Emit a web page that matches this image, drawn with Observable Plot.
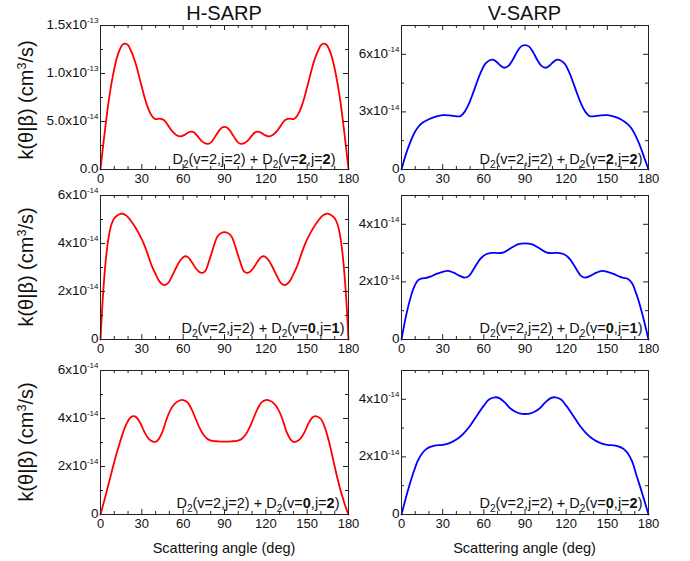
<!DOCTYPE html>
<html>
<head>
<meta charset="utf-8">
<script src="https://cdn.jsdelivr.net/npm/d3@7"></script>
<script src="https://cdn.jsdelivr.net/npm/@observablehq/plot@0.6"></script>
<style>
  body { margin: 0; background: #fff; font-family: "Liberation Sans", Arial, sans-serif; color: #111; }
  #fig { position: relative; width: 690px; height: 561px; overflow: hidden; }
  #fig svg { position: absolute; }
  .ttl { position: absolute; font-size: 20px; line-height: 20px; transform: translateX(-50%); white-space: nowrap; }
  .xt { position: absolute; font-size: 14.5px; line-height: 14px; transform: translateX(-50%); white-space: nowrap; }
  .yt { position: absolute; font-size: 20px; line-height: 20px; white-space: nowrap; transform: translate(-50%, -50%) rotate(-90deg); }
  .yt sup { font-size: 12.5px; vertical-align: 0; position: relative; top: -7.5px; }
</style>
</head>
<body>
<div id="fig"></div>
<script>
// ---- Data (k values in units of 1e-14 cm^3/s) ----
const columnTitles = ["H-SARP", "V-SARP"];
const xAxisTitle = "Scattering angle (deg)";
const xTicks = [0, 30, 60, 90, 120, 150, 180];
const xMinorTicks = [10, 20, 40, 50, 70, 80, 100, 110, 130, 140, 160, 170];

// H-SARP, D2(v=2,j=2)+D2(v=2,j=2)
const angH22 = [0,2,4,6,8,10,12,14,16,18,20,22,24,26,28,30,32,34,36,38,40,43,46,49,52,55,58,61,64,66,68,70,72,74,76,78,80,82,84,86,88,90,92,94,96,98,100,102,104,106,108,110,112,114,116,119,122,125,128,131,134,137,140,142,144,146,148,150,152,154,156,158,160,162,164,166,168,170,172,174,176,178,180];
const kH22 = [0,2.6,5.0,7.2,9.0,10.5,11.7,12.5,13.0,13.12,12.95,12.4,11.7,10.8,9.7,8.6,7.5,6.6,5.9,5.45,5.25,5.3,5.15,4.6,4.0,3.6,3.45,3.6,3.88,3.95,3.85,3.55,3.2,2.9,2.72,2.68,2.8,3.15,3.6,4.05,4.35,4.45,4.35,4.05,3.6,3.15,2.8,2.68,2.72,2.9,3.2,3.55,3.85,3.95,3.88,3.6,3.45,3.6,4.0,4.6,5.15,5.3,5.25,5.45,5.9,6.6,7.5,8.6,9.7,10.8,11.7,12.4,12.95,13.12,13.0,12.5,11.7,10.5,9.0,7.2,5.0,2.6,0];

// V-SARP, D2(v=2,j=2)+D2(v=2,j=2)
const angV22 = [0,3,6,9,12,15,20,25,30,35,40,43,46,49,52,55,58,61,64,66.5,69,72,75,78,81,84,87,90,93,96,99,102,105,108,111,113.5,116,119,122,125,128,131,134,137,140,145,150,155,160,165,168,171,174,177,180];
const kV22 = [0,0.75,1.35,1.85,2.2,2.42,2.62,2.75,2.83,2.82,2.77,2.78,3.0,3.4,3.95,4.55,5.1,5.5,5.68,5.72,5.62,5.42,5.3,5.4,5.7,6.1,6.4,6.48,6.4,6.1,5.7,5.4,5.3,5.42,5.62,5.72,5.68,5.5,5.1,4.55,3.95,3.4,3.0,2.78,2.77,2.82,2.83,2.75,2.6,2.35,2.1,1.7,1.2,0.6,0];

// H-SARP, D2(v=2,j=2)+D2(v=0,j=1)
const angH01 = [0,2,4,6,8,10,13,16,19,22,25,28,31,34,37,40,43,46,49,52,55,58,61,63,66,69,72,74,76,79,82,85,88,90,92,95,98,101,104,106,108,111,114,117,119,122,125,128,131,134,137,140,143,146,149,152,155,158,161,164,167,170,172,174,176,178,180];
const kH01 = [0,2.0,3.4,4.3,4.8,5.05,5.2,5.24,5.15,4.95,4.7,4.4,4.05,3.6,3.1,2.72,2.4,2.27,2.35,2.65,3.0,3.3,3.46,3.45,3.25,2.98,2.8,2.78,2.85,3.3,3.85,4.3,4.45,4.47,4.45,4.3,3.85,3.3,2.85,2.78,2.8,2.98,3.25,3.45,3.46,3.3,3.0,2.65,2.35,2.27,2.4,2.72,3.1,3.6,4.05,4.4,4.7,4.95,5.15,5.24,5.2,5.05,4.8,4.3,3.4,2.0,0];

// V-SARP, D2(v=2,j=2)+D2(v=0,j=1)
const angV01 = [0,3,6,9,12,15,18,21,25,30,34,38,42,46,49,52,55,58,62,66,70,74,78,82,86,90,94,98,102,106,110,114,118,122,125,128,131,134,138,142,146,150,155,159,162,165,168,171,174,177,180];
const kV01 = [0,0.75,1.35,1.8,2.05,2.12,2.14,2.18,2.27,2.35,2.38,2.32,2.22,2.15,2.2,2.4,2.63,2.83,2.97,3.01,3.0,3.02,3.12,3.24,3.32,3.34,3.32,3.24,3.12,3.02,3.0,3.01,2.97,2.83,2.63,2.4,2.2,2.15,2.22,2.32,2.38,2.35,2.27,2.18,2.14,2.1,1.95,1.6,1.15,0.6,0];

// H-SARP, D2(v=2,j=2)+D2(v=0,j=2)
const angH02 = [0,4,8,12,16,19,22,24,26,29,32,35,38,40,42,45,48,51,54,57,60,63,66,69,72,75,78,81,85,90,95,99,102,105,108,111,114,117,120,123,126,129,132,135,138,140,142,145,148,151,154,156,158,160,163,166,169,172,175,178,180];
const kH02 = [0,0.85,1.75,2.6,3.35,3.8,4.05,4.1,4.05,3.8,3.42,3.15,3.04,3.03,3.12,3.45,3.98,4.38,4.62,4.74,4.77,4.68,4.4,4.0,3.6,3.3,3.13,3.07,3.05,3.04,3.05,3.07,3.13,3.3,3.6,4.0,4.4,4.68,4.77,4.74,4.62,4.38,3.98,3.45,3.12,3.03,3.04,3.15,3.42,3.8,4.05,4.1,4.06,3.98,3.6,3.0,2.25,1.5,0.85,0.3,0];

// V-SARP, D2(v=2,j=2)+D2(v=0,j=2)
const angV02 = [0,3,6,9,12,15,18,21,25,30,35,40,45,50,55,60,64,68,71,75,79,83,86,90,94,97,101,105,109,112,116,120,125,130,135,140,145,150,155,159,162,165,168,171,174,177,180];
const kV02 = [0,0.55,1.05,1.5,1.88,2.12,2.27,2.35,2.4,2.42,2.48,2.6,2.8,3.08,3.44,3.78,4.0,4.07,4.05,3.9,3.7,3.57,3.51,3.49,3.51,3.57,3.7,3.9,4.05,4.07,4.0,3.78,3.44,3.08,2.8,2.6,2.48,2.42,2.4,2.35,2.27,2.12,1.85,1.4,0.95,0.48,0];

// y-axis ticks and labels (units of 1e-14)
const yTicksH22 = [0, 5, 10, 15];
const yLabelsH22 = ["0.0", "5.0x10^-14", "1.0x10^-13", "1.5x10^-13"];
const yMinorH22 = [2.5, 7.5, 12.5];
const yTicksV22 = [0, 3, 6];
const yLabelsV22 = ["0", "3x10^-14", "6x10^-14"];
const yMinorV22 = [1.5, 4.5];
const yTicks6 = [0, 2, 4, 6];
const yLabels6 = ["0", "2x10^-14", "4x10^-14", "6x10^-14"];
const yMinor6 = [1, 3, 5];
const yTicks5 = [0, 2, 4];
const yLabels5 = ["0", "2x10^-14", "4x10^-14"];
const yMinor5 = [1, 3];

// final-state labels (bold quantum numbers)
const finalV = ["2", "0", "0"];
const finalJ = ["2", "1", "2"];

// ---- Layout ----
const cols = [
  {left: 0, width: 350, marginLeft: 100, marginRight: 2, color: "#ff0000"},
  {left: 350, width: 340, marginLeft: 51, marginRight: 42, color: "#0000ff"}
];
const rows = [
  {top: 0, marginTop: 25, marginBottom: 14},
  {top: 183, marginTop: 12, marginBottom: 14},
  {top: 353, marginTop: 17, marginBottom: 14}
];
const PH = 144;

const panels = [
  {r: 0, c: 0, ang: angH22, k: kH22, ymax: 15, yt: yTicksH22, yl: yLabelsH22, ym: yMinorH22, dx: -13, dy: -6},
  {r: 0, c: 1, ang: angV22, k: kV22, ymax: 7.5, yt: yTicksV22, yl: yLabelsV22, ym: yMinorV22, dx: -6, dy: -6},
  {r: 1, c: 0, ang: angH01, k: kH01, ymax: 6, yt: yTicks6, yl: yLabels6, ym: yMinor6, dx: -4, dy: -7},
  {r: 1, c: 1, ang: angV01, k: kV01, ymax: 5, yt: yTicks5, yl: yLabels5, ym: yMinor5, dx: -6, dy: -7},
  {r: 2, c: 0, ang: angH02, k: kH02, ymax: 6, yt: yTicks6, yl: yLabels6, ym: yMinor6, dx: -9, dy: -7},
  {r: 2, c: 1, ang: angV02, k: kV02, ymax: 5, yt: yTicks5, yl: yLabels5, ym: yMinor5, dx: -6, dy: -7}
];

const fig = document.getElementById("fig");
const annotRe = /^D2\(v=(\d),j=(\d)\) \+ D2\(v=(\d),j=(\d)\)$/;

for (const p of panels) {
  const col = cols[p.c], row = rows[p.r];
  const height = row.marginTop + PH + row.marginBottom;
  const PW = col.width - col.marginLeft - col.marginRight;
  const data = p.ang.map((a, i) => ({angle: a, k: p.k[i]}));
  const labelMap = new Map(p.yt.map((t, i) => [t, p.yl[i]]));
  const annot = `D2(v=2,j=2) + D2(v=${finalV[p.r]},j=${finalJ[p.r]})`;
  const tc = "#222";
  const svg = Plot.plot({
    width: col.width, height,
    marginLeft: col.marginLeft, marginRight: col.marginRight,
    marginTop: row.marginTop, marginBottom: row.marginBottom,
    style: {background: "none", overflow: "visible", fontFamily: "'Liberation Sans', Arial, sans-serif", fontSize: "13px", color: "#111"},
    x: {domain: [0, 180], label: null},
    y: {domain: [0, p.ymax], label: null},
    marks: [
      Plot.line(data, {x: "angle", y: "k", stroke: col.color, strokeWidth: 1.8, curve: "catmull-rom"}),
      Plot.frame({stroke: tc, strokeWidth: 1}),
      Plot.tickX(xTicks, {x: d => d, insetTop: PH - 5, stroke: tc}),
      Plot.tickX(xTicks, {x: d => d, insetBottom: PH - 5, stroke: tc}),
      Plot.tickX(xMinorTicks, {x: d => d, insetTop: PH - 3, stroke: tc}),
      Plot.tickX(xMinorTicks, {x: d => d, insetBottom: PH - 3, stroke: tc}),
      Plot.tickY(p.yt, {y: d => d, insetRight: PW - 5, stroke: tc}),
      Plot.tickY(p.yt, {y: d => d, insetLeft: PW - 5, stroke: tc}),
      Plot.tickY(p.ym, {y: d => d, insetRight: PW - 3, stroke: tc}),
      Plot.tickY(p.ym, {y: d => d, insetLeft: PW - 3, stroke: tc}),
      Plot.axisX({ticks: xTicks, tickSize: 0, tickPadding: 4.5, tickFormat: d => String(d), label: null, fontSize: 13}),
      Plot.axisY({ticks: p.yt, tickSize: 0, tickPadding: 2, tickFormat: d => labelMap.get(d), label: null, fontSize: 13.5, dy: -1}),
      Plot.text([annot], {frameAnchor: "bottom-right", text: d => d, textAnchor: "end", lineAnchor: "bottom", dx: p.dx, dy: p.dy, fontSize: 14.5, fill: "#111"})
    ]
  });
  svg.style.left = col.left + "px";
  svg.style.top = row.top + "px";

  d3.select(svg).selectAll("text").each(function () {
    const s = this.textContent;
    const t = d3.select(this);
    // superscript exponents in y tick labels
    if (s.includes("^")) {
      const parts = s.split("^");
      t.text(null);
      t.append("tspan").text(parts[0]);
      t.append("tspan").attr("dy", -5.5).attr("font-size", "8px").text(parts[1]);
      return;
    }
    // subscripts and bold quantum numbers in the annotation
    const m = s.match(annotRe);
    if (!m) return;
    t.text(null);
    const segs = [
      {t: "D"}, {t: "2", sub: true}, {t: `(v=${m[1]},j=${m[2]}) + D`, back: true}, {t: "2", sub: true},
      {t: "(v=", back: true}, {t: m[3], b: true}, {t: ",j="}, {t: m[4], b: true}, {t: ")"}
    ];
    for (const sg of segs) {
      const ts = t.append("tspan").text(sg.t);
      if (sg.sub) ts.attr("dy", 4).attr("font-size", "10px");
      if (sg.back) ts.attr("dy", -4);
      if (sg.b) ts.attr("font-weight", "bold");
    }
  });

  fig.appendChild(svg);
}

// Column titles
const titleX = [224, 524.5];
columnTitles.forEach((t, i) => {
  const d = document.createElement("div");
  d.className = "ttl";
  d.style.left = titleX[i] + "px";
  d.style.top = "2.5px";
  d.textContent = t;
  fig.appendChild(d);
});

// x-axis titles
titleX.forEach(x => {
  const d = document.createElement("div");
  d.className = "xt";
  d.style.left = x + "px";
  d.style.top = "540.5px";
  d.textContent = xAxisTitle;
  fig.appendChild(d);
});

// y-axis titles
const rowCenters = [100, 267, 442];
rowCenters.forEach(y => {
  const d = document.createElement("div");
  d.className = "yt";
  d.style.left = "27px";
  d.style.top = y + "px";
  d.innerHTML = "k(&theta;|&beta;) (cm<sup>3</sup>/s)";
  fig.appendChild(d);
});
</script>
</body>
</html>
